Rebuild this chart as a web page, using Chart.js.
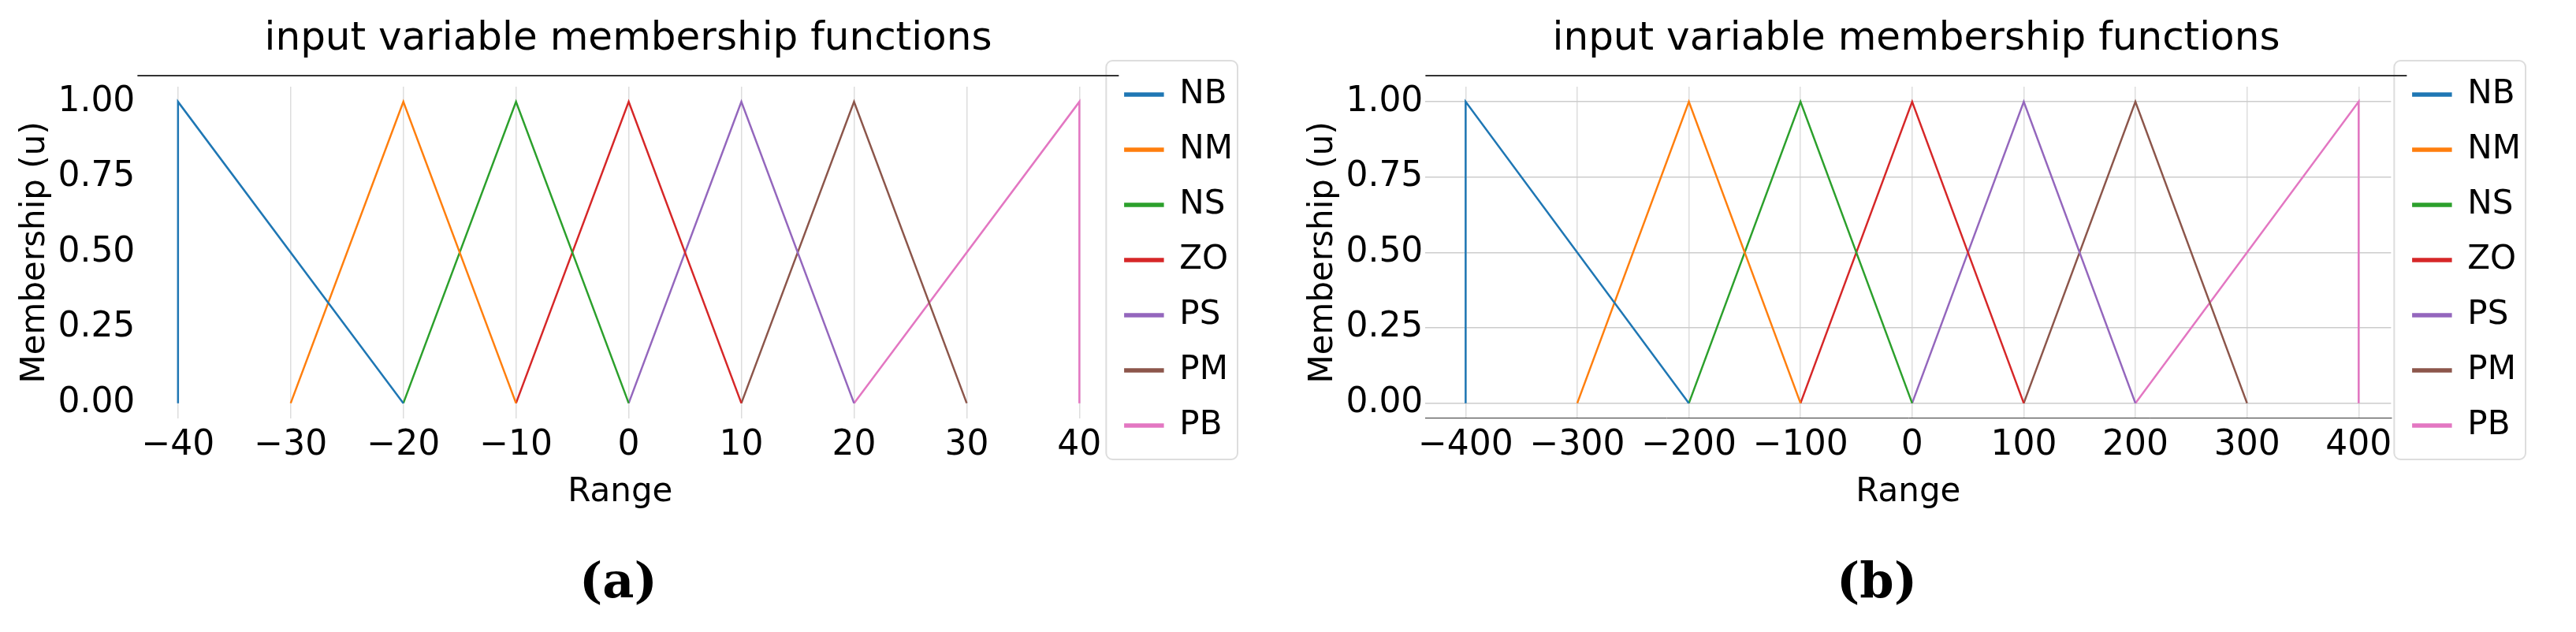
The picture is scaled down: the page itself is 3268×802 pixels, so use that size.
<!DOCTYPE html>
<html>
<head>
<script src="https://cdn.jsdelivr.net/npm/chart.js@4"></script>
<style>
body { margin: 0; background: #fff; width: 3268px; height: 802px; position: relative; overflow: hidden; }
.box { position: absolute; top: 0; width: 1634px; height: 650px; }
.cap { position: absolute; top: 700px; font: bold 62px "DejaVu Serif", serif; }
</style>
</head>
<body>
<div class="box" style="left:0"><canvas id="chartA"></canvas></div>
<div class="box" style="left:1634px"><canvas id="chartB"></canvas></div>
<div class="cap" style="left:735px">(a)</div>
<div class="cap" style="left:2330px">(b)</div>
<script>
// membership function sets, points as [x, u]
const names = ['NB', 'NM', 'NS', 'ZO', 'PS', 'PM', 'PB'];
const colors = ['#1f77b4', '#ff7f0e', '#2ca02c', '#d62728', '#9467bd', '#8c564b', '#e377c2'];
const setsA = [
    [[-40, 0], [-40, 1], [-20, 0]],
    [[-30, 0], [-20, 1], [-10, 0]],
    [[-20, 0], [-10, 1], [0, 0]],
    [[-10, 0], [0, 1], [10, 0]],
    [[0, 0], [10, 1], [20, 0]],
    [[10, 0], [20, 1], [30, 0]],
    [[20, 0], [40, 1], [40, 0]]
];
const setsB = [
    [[-400, 0], [-400, 1], [-200, 0]],
    [[-300, 0], [-200, 1], [-100, 0]],
    [[-200, 0], [-100, 1], [0, 0]],
    [[-100, 0], [0, 1], [100, 0]],
    [[0, 0], [100, 1], [200, 0]],
    [[100, 0], [200, 1], [300, 0]],
    [[200, 0], [400, 1], [400, 0]]
];
const yTicks = [0, 0.25, 0.5, 0.75, 1];

const font = 'DejaVu Sans';

// draws the rounded frame around the legend items and the top spine
const legendFrame = {
    id: 'legendFrame',
    afterDraw(chart) {
        const l = chart.legend, c = chart.ctx, a = chart.chartArea;
        const hb = l.legendHitBoxes;
        const top = hb[0].top - 22, bottom = hb[hb.length - 1].top + hb[hb.length - 1].height + 22;
        c.save();
        c.strokeStyle = '#dddddd';
        c.lineWidth = 2;
        c.beginPath();
        c.roundRect(l.left + 4, top, l.width - 8, bottom - top, 8);
        c.stroke();
        c.strokeStyle = '#333';
        c.beginPath();
        c.moveTo(a.left, a.top - 14);
        c.lineTo(a.right + 20, a.top - 14);
        c.stroke();
        c.restore();
    }
};

function makeChart(id, sets, xmin, xmax, step, yGrid) {
    const ctx = document.getElementById(id).getContext('2d');
    new Chart(ctx, {
        type: 'scatter',
        data: {
            datasets: sets.map((pts, i) => ({
                label: names[i],
                data: pts.map(p => ({ x: p[0], y: p[1] })),
                showLine: true,
                borderColor: colors[i],
                backgroundColor: colors[i],
                borderWidth: 2.5,
                pointRadius: 0
            }))
        },
        options: {
            responsive: false,
            animation: false,
            layout: { padding: { left: 20, right: 60, top: 10, bottom: 0 } },
            plugins: {
                title: { display: true, text: 'input variable membership functions', color: '#000',
                         font: { family: font, size: 50, weight: 'normal' }, padding: { top: 10, bottom: 30 } },
                legend: {
                    position: 'right',
                    labels: { color: '#000', font: { family: font, size: 42 }, boxWidth: 48, boxHeight: 3, padding: 28 }
                },
                tooltip: { enabled: false }
            },
            scales: {
                x: {
                    type: 'linear', min: xmin, max: xmax,
                    afterBuildTicks: ax => {
                        const t = [];
                        for (let v = Math.ceil(xmin / step) * step; v <= xmax; v += step) t.push({ value: v });
                        ax.ticks = t;
                    },
                    ticks: { color: '#000', font: { family: font, size: 44 }, padding: 8, callback: v => String(v).replace('-', '\u2212') },
                    grid: { color: '#dddddd', lineWidth: 1.5, drawTicks: false },
                    border: { display: yGrid, color: '#333' },
                    title: { display: true, text: 'Range', color: '#000', font: { family: font, size: 42 }, padding: 0 }
                },
                y: {
                    min: -0.05, max: 1.05,
                    afterBuildTicks: ax => { ax.ticks = yTicks.map(v => ({ value: v })); },
                    ticks: { color: '#000', font: { family: font, size: 44 }, callback: v => v.toFixed(2) },
                    grid: { display: yGrid, color: '#cccccc', lineWidth: 1.5, drawTicks: false },
                    border: { display: false },
                    title: { display: true, text: 'Membership (u)', color: '#000', font: { family: font, size: 42 }, padding: 0 }
                }
            }
        },
        plugins: [legendFrame]
    });
}

const ca = document.getElementById('chartA'); ca.width = 1634; ca.height = 650;
const cb = document.getElementById('chartB'); cb.width = 1634; cb.height = 650;
makeChart('chartA', setsA, -43.6, 42.1, 10, false);
makeChart('chartB', setsB, -436, 429, 100, true);
</script>
</body>
</html>
